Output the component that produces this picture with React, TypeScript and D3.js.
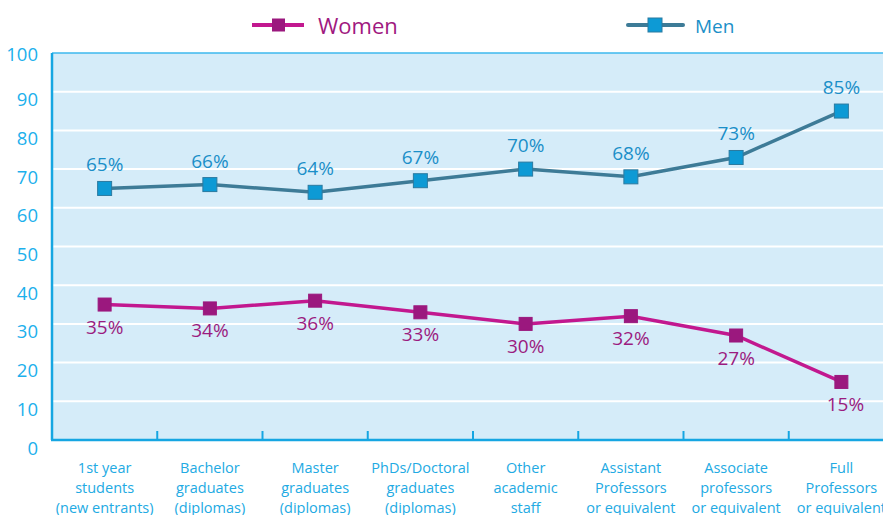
import * as d3 from "d3";

// chart data
const categories = [
  ["1st year", "students", "(new entrants)"],
  ["Bachelor", "graduates", "(diplomas)"],
  ["Master", "graduates", "(diplomas)"],
  ["PhDs/Doctoral", "graduates", "(diplomas)"],
  ["Other", "academic", "staff"],
  ["Assistant", "Professors", "or equivalent"],
  ["Associate", "professors", "or equivalent"],
  ["Full", "Professors", "or equivalent"],
];
const women = [35, 34, 36, 33, 30, 32, 27, 15];
const men = [65, 66, 64, 67, 70, 68, 73, 85];
const yTicks = [0, 10, 20, 30, 40, 50, 60, 70, 80, 90, 100];

const W = 883;
const H = 515;
const FONT = "'Open Sans', 'Noto Sans', sans-serif";

const margin = { left: 52, right: 894, top: 53, bottom: 440 };

const App = () => {
  const keys = categories.map((c, i) => String(i));
  const x = d3.scaleBand().domain(keys).range([margin.left, margin.right]);
  const y = d3.scaleLinear().domain([0, 100]).range([margin.bottom, margin.top]);
  const cx = (i: number) => (x(String(i)) as number) + x.bandwidth() / 2;

  const line = d3
    .line<number>()
    .x((d, i) => cx(i))
    .y((d) => y(d));

  const series = [
    {
      name: "Women",
      data: women,
      line: "#c2188f",
      marker: "#9b187e",
      label: "#9b1b80",
      dy: 22,
      size: 13,
    },
    {
      name: "Men",
      data: men,
      line: "#3d7b97",
      marker: "#0d9ad5",
      label: "#1b8fc8",
      dy: -24,
      size: 14,
    },
  ];

  return (
    <svg
      width={W}
      height={H}
      style={{ position: "absolute", left: 0, top: 0, background: "#fff" }}
      fontFamily={FONT}
    >
      {/* plot background */}
      <rect
        x={margin.left}
        y={margin.top}
        width={margin.right - margin.left}
        height={margin.bottom - margin.top}
        fill="#d5ecf9"
      />
      {/* gridlines */}
      {yTicks
        .filter((t) => t > 0 && t < 100)
        .map((t) => (
          <line
            key={t}
            x1={margin.left}
            x2={margin.right}
            y1={y(t)}
            y2={y(t)}
            stroke="#fff"
            strokeWidth={2}
          />
        ))}
      <line
        x1={margin.left}
        x2={margin.right}
        y1={y(100)}
        y2={y(100)}
        stroke="#3cb8ee"
        strokeWidth={1.5}
      />
      {/* axes */}
      <line
        x1={margin.left}
        x2={margin.left}
        y1={margin.top}
        y2={margin.bottom}
        stroke="#16a6e2"
        strokeWidth={2.5}
      />
      <line
        x1={margin.left - 1}
        x2={margin.right}
        y1={margin.bottom}
        y2={margin.bottom}
        stroke="#16a6e2"
        strokeWidth={2.5}
      />
      {keys.slice(1).map((k) => (
        <line
          key={k}
          x1={x(k) as number}
          x2={x(k) as number}
          y1={margin.bottom - 9}
          y2={margin.bottom}
          stroke="#16a6e2"
          strokeWidth={2}
        />
      ))}
      {/* y tick labels */}
      {yTicks.map((t) => (
        <text
          key={t}
          x={38}
          y={y(t) + (t === 100 ? 0 : 7)}
          textAnchor="end"
          dominantBaseline="central"
          fontSize={18.5}
          fill="#1cb0ec"
        >
          {t}
        </text>
      ))}
      {/* category labels */}
      {categories.map((c, i) => (
        <text
          key={i}
          x={cx(i)}
          y={margin.bottom + 27}
          textAnchor="middle"
          fontSize={14.5}
          fill="#22aae3"
          dominantBaseline="central"
        >
          {c.map((s, j) => (
            <tspan key={j} x={cx(i)} dy={j === 0 ? 0 : 20}>
              {s}
            </tspan>
          ))}
        </text>
      ))}
      {/* series */}
      {series.map((s) => (
        <g key={s.name}>
          <path
            d={line(s.data) as string}
            fill="none"
            stroke={s.line}
            strokeWidth={3.5}
          />
          {s.data.map((v, i) => (
            <rect
              key={i}
              x={cx(i) - s.size / 2}
              y={y(v) - s.size / 2}
              width={s.size}
              height={s.size}
              fill={s.marker}
              stroke={s.name === "Men" ? "#2b7aa0" : s.marker}
              strokeWidth={1}
            />
          ))}
          {s.data.map((v, i) => (
            <text
              key={"l" + i}
              x={cx(i) + (i === s.data.length - 1 && s.name === "Women" ? 4 : 0)}
              y={y(v) + s.dy}
              textAnchor="middle"
              dominantBaseline="central"
              fontSize={19}
              fill={s.label}
            >
              {v}%
            </text>
          ))}
        </g>
      ))}
      {/* legend */}
      <g transform="translate(252,25)">
        <line x1={0} x2={52} y1={0} y2={0} stroke="#c2188f" strokeWidth={4} />
        <rect x={20} y={-6.5} width={13} height={13} fill="#9b187e" />
        <text
          x={66}
          y={0}
          dominantBaseline="central"
          fontSize={22}
          fill="#a0197f"
        >
          Women
        </text>
      </g>
      <g transform="translate(628,25)">
        <line
          x1={0}
          x2={55}
          y1={0}
          y2={0}
          stroke="#3d7b97"
          strokeWidth={4}
          strokeLinecap="round"
        />
        <rect
          x={20}
          y={-7}
          width={14}
          height={14}
          fill="#0d9ad5"
          stroke="#2b7aa0"
          strokeWidth={1}
        />
        <text
          x={67}
          y={1}
          dominantBaseline="central"
          fontSize={19}
          fill="#1b8fc8"
        >
          Men
        </text>
      </g>
    </svg>
  );
};

export default App;
